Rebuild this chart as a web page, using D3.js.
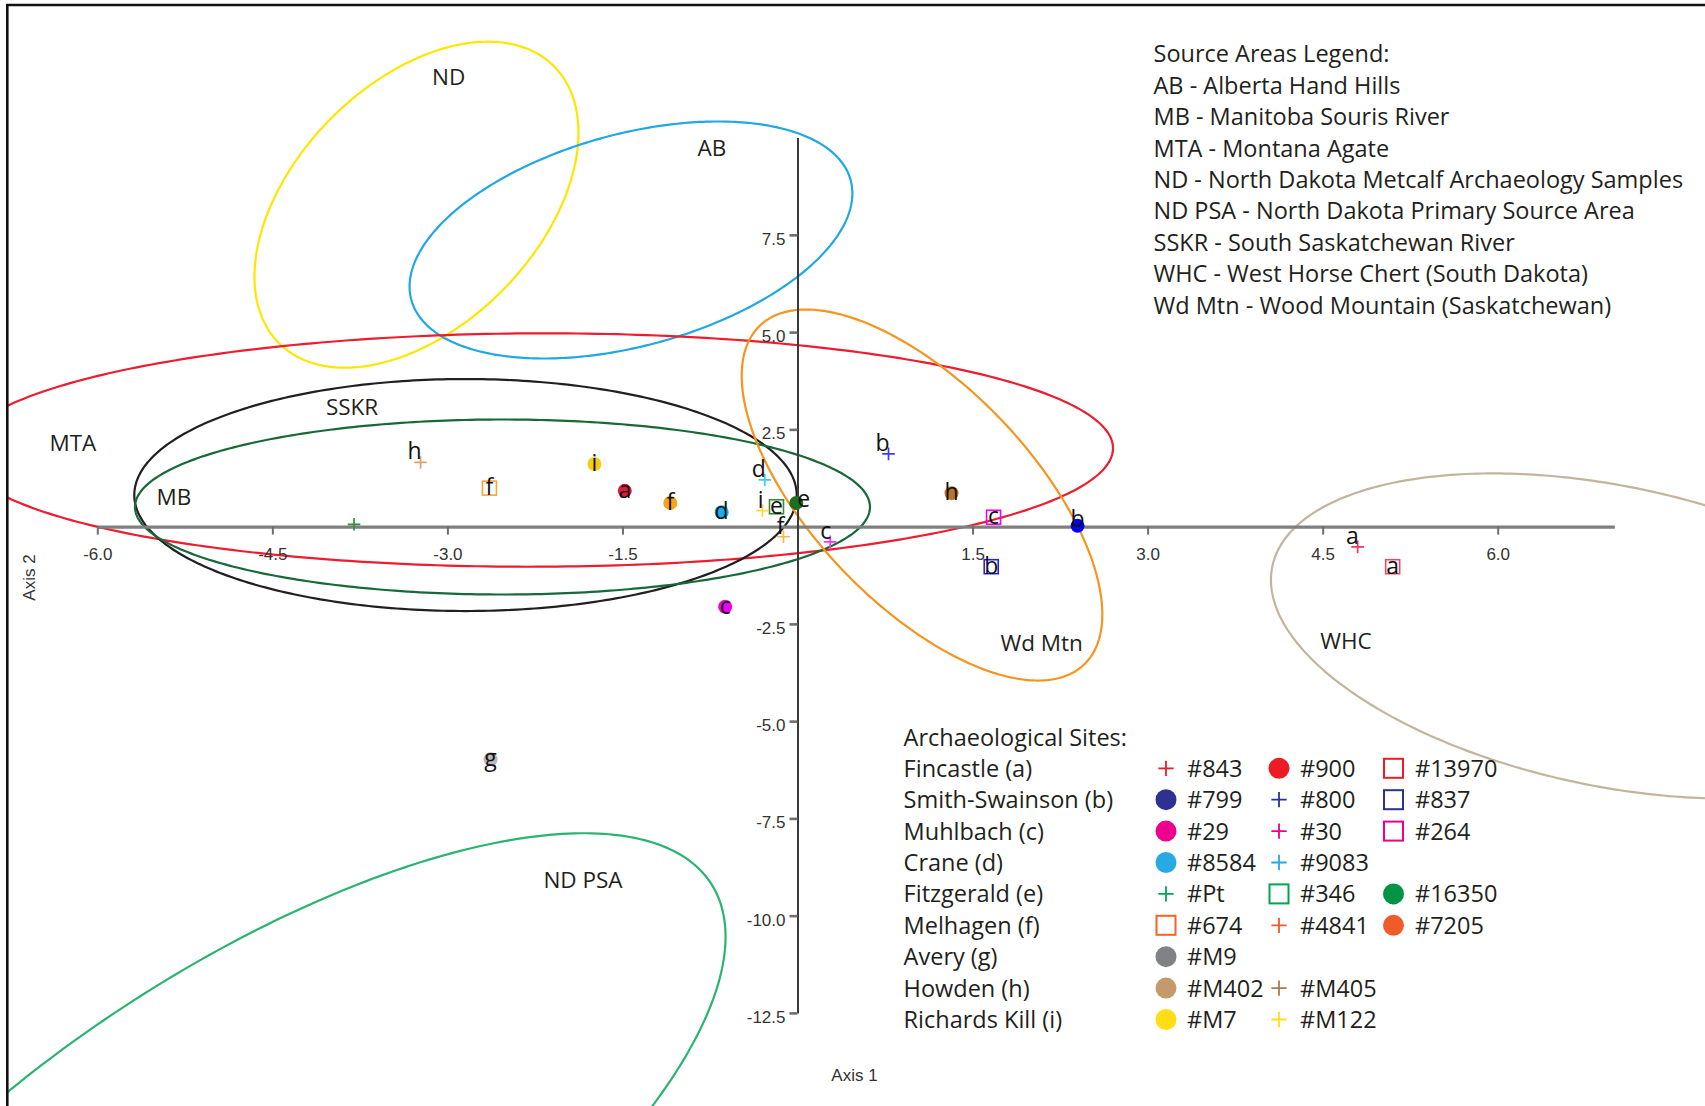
<!DOCTYPE html>
<html>
<head>
<meta charset="utf-8">
<script src="https://cdn.jsdelivr.net/npm/d3@7"></script>
<style>
  html, body { margin: 0; padding: 0; background: #fff; }
  svg { display: block; }
</style>
</head>
<body>
<svg id="chart" width="1705" height="1106"></svg>
<script>
// ---- Sample scores on the first two ordination axes ----
const sampleIds   = ["#843", "#900", "#13970", "#799", "#800", "#837", "#29", "#30", "#264",
                     "#8584", "#9083", "#Pt", "#346", "#16350", "#674", "#4841", "#7205",
                     "#M9", "#M402", "#M405", "#M7", "#M122"];
const sampleSite  = ["a", "a", "a", "b", "b", "b", "c", "c", "c",
                     "d", "d", "e", "e", "e", "f", "f", "f",
                     "g", "h", "h", "i", "i"];
const sampleLabel = ["a", "a", "a", "b", "b", "b", "c", "c", "c",
                     "d", "d", "", "e", "e", "f", "f", "f",
                     "g", "h", "h", "i", "i"];
const sampleShape = ["plus", "circle", "square", "circle", "plus", "square", "circle", "plus", "square",
                     "circle", "plus", "plus", "square", "circle", "square", "plus", "circle",
                     "circle", "circle", "plus", "circle", "plus"];
const axis1Scores = [4.80, -1.48, 5.10, 2.40, 0.78, 1.66, -0.62, 0.28, 1.68,
                     -0.65, -0.28, -3.80, -0.18, -0.01, -2.64, -0.12, -1.09,
                     -2.63, 1.32, -3.23, -1.74, -0.30];
const axis2Scores = [-0.52, 0.92, -1.03, 0.02, 1.87, -1.03, -2.06, -0.39, 0.24,
                     0.37, 1.20, 0.06, 0.51, 0.61, 0.99, -0.26, 0.61,
                     -5.98, 0.86, 1.65, 1.61, 0.41];
const plotColors   = ["#E83A5C", "#E0173F", "#E44A6A", "#0000F0", "#3A3AFF", "#1F1FFF", "#F000F0", "#FF33FF", "#F000F0",
                      "#1AAEEF", "#3CCBFF", "#2F8F3A", "#3A8A3A", "#1E6E22", "#F9A43A", "#FFB44A", "#F9A21B",
                      "#B8B8B8", "#B8742F", "#D6A473", "#F5CE14", "#FFD54A"];
const legendColors = ["#ED1C24", "#ED1C24", "#ED1C24", "#2E3192", "#2E3192", "#2E3192", "#EC008C", "#EC008C", "#EC008C",
                      "#27AAE1", "#27AAE1", "#00A651", "#00A651", "#009444", "#F26522", "#F15A29", "#F15A29",
                      "#808285", "#C49A6C", "#A97C50", "#FFDE17", "#FFDE17"];

// ---- Archaeological sites ----
const siteLetters = ["a", "b", "c", "d", "e", "f", "g", "h", "i"];
const siteNames   = ["Fincastle (a)", "Smith-Swainson (b)", "Muhlbach (c)", "Crane (d)", "Fitzgerald (e)",
                     "Melhagen (f)", "Avery (g)", "Howden (h)", "Richards Kill (i)"];

// ---- Source-area confidence ellipses (centre and spread matrix, axis units) ----
const regionCodes  = ["ND", "AB", "MTA", "SSKR", "MB", "Wd Mtn", "WHC", "ND PSA"];
const regionCX     = [-3.265, -1.427, -2.232, -2.845, -2.528, 1.067, 6.962, -4.692];
const regionCY     = [8.275, 7.368, 1.969, 0.812, 0.504, 0.812, -2.812, -16.81];
const regionVarX   = [1.927, 3.599, 24.36, 8.054, 9.917, 2.387, 8.438, 16.61];
const regionVarY   = [17.558, 9.280, 9.0, 8.892, 5.06, 22.74, 17.47, 79.71];
const regionCov    = [2.569, 2.273, 0.229, 0, 0, -4.736, -4.191, 25.55];
const regionColors = ["#FFE600", "#1FA8E3", "#ED1C2E", "#231F20", "#17693A", "#F7941D", "#C2B59B", "#2BB371"];
const regionLabelX = [-2.989, -0.733, -6.209, -3.817, -5.343, 2.092, 4.700, -1.838];
const regionLabelY = [11.55, 9.725, 2.141, 3.067, 0.774, -3.0, -2.933, -9.085];

const sourceLegendLines = [
  "Source Areas Legend:",
  "AB - Alberta Hand Hills",
  "MB - Manitoba Souris River",
  "MTA - Montana Agate",
  "ND - North Dakota Metcalf Archaeology Samples",
  "ND PSA - North Dakota Primary Source Area",
  "SSKR - South Saskatchewan River",
  "WHC - West Horse Chert (South Dakota)",
  "Wd Mtn - Wood Mountain (Saskatchewan)"
];

// ---- Axes ----
const xTicks = [-6.0, -4.5, -3.0, -1.5, 1.5, 3.0, 4.5, 6.0];
const yTicks = [7.5, 5.0, 2.5, -2.5, -5.0, -7.5, -10.0, -12.5];

const FONT = "'Open Sans', 'Noto Sans', sans-serif";
const AXIS_FONT = "'Liberation Sans', Arial, sans-serif";
const INK = "#231F20";
const LEGEND_SIZE = 23.5;
const REGION_SIZE = 22.5;

const svg = d3.select("#chart");
svg.append("rect").attr("width", 1705).attr("height", 1106).attr("fill", "#fff");

const x = d3.scaleLinear().domain([-6, 7]).range([97.3, 1614.4]);
const y = d3.scaleLinear().domain([-12.5, 10]).range([1012.9, 137.6]);

svg.append("clipPath").attr("id", "frameClip")
  .append("rect").attr("x", 8).attr("y", 6).attr("width", 1697).attr("height", 1100);

// Confidence ellipses: centre + Cholesky factor of the spread matrix applied to the unit circle
const ellipseLine = d3.line().x(d => x(d[0])).y(d => y(d[1])).curve(d3.curveLinearClosed);
const ellipses = svg.append("g").attr("clip-path", "url(#frameClip)");
regionCodes.forEach((code, i) => {
  const a = Math.sqrt(regionVarX[i]);
  const c = regionCov[i] / a;
  const d = Math.sqrt(regionVarY[i] - c * c);
  const pts = d3.range(0, 360, 1).map(deg => {
    const t = deg * Math.PI / 180, u = Math.cos(t), v = Math.sin(t);
    return [regionCX[i] + a * u, regionCY[i] + c * u + d * v];
  });
  ellipses.append("path")
    .attr("d", ellipseLine(pts))
    .attr("fill", "none")
    .attr("stroke", regionColors[i])
    .attr("stroke-width", 2.2);
});

// x axis (Axis 1) through y = 0
const fmt = v => v.toFixed(1);
const gx = svg.append("g").attr("transform", `translate(0,${y(0)})`)
  .call(d3.axisBottom(x).tickValues(xTicks).tickFormat(fmt).tickSize(8).tickSizeOuter(0).tickPadding(13));
gx.select(".domain").attr("stroke", "#7F7F7F").attr("stroke-width", 3.4);
gx.selectAll(".tick line").attr("stroke", "#6E6E6E").attr("stroke-width", 2);
gx.selectAll(".tick text").attr("font-family", AXIS_FONT).attr("font-size", 17).attr("fill", "#333");

// y axis (Axis 2) through x = 0
const gy = svg.append("g").attr("transform", `translate(${x(0)},0)`)
  .call(d3.axisLeft(y).tickValues(yTicks).tickFormat(fmt).tickSize(8).tickSizeOuter(0).tickPadding(4));
gy.select(".domain").attr("stroke", "#3A3A3A").attr("stroke-width", 2);
gy.selectAll(".tick line").attr("stroke", "#6E6E6E").attr("stroke-width", 2.6);
gy.selectAll(".tick text").attr("font-family", AXIS_FONT).attr("font-size", 17).attr("fill", "#333").attr("dy", "0.55em");

svg.append("text").text("Axis 1")
  .attr("x", x(0) + 57).attr("y", 1080.5)
  .attr("text-anchor", "middle").attr("font-family", AXIS_FONT).attr("font-size", 17).attr("fill", "#333");
svg.append("text").text("Axis 2")
  .attr("transform", "translate(35,577.5) rotate(-90)")
  .attr("text-anchor", "middle").attr("font-family", AXIS_FONT).attr("font-size", 17).attr("fill", "#333");

// Region names
svg.append("g").selectAll("text").data(regionCodes).join("text")
  .text(d => d)
  .attr("x", (d, i) => x(regionLabelX[i]))
  .attr("y", (d, i) => y(regionLabelY[i]))
  .attr("dy", "0.36em")
  .attr("text-anchor", "middle")
  .attr("font-family", FONT).attr("font-size", REGION_SIZE).attr("fill", INK);

// Sample markers
function drawSymbol(g, shape, color, size) {
  if (shape === "circle") {
    g.append("circle").attr("r", size * 0.5).attr("fill", color);
  } else if (shape === "square") {
    g.append("rect").attr("x", -size * 0.5).attr("y", -size * 0.5)
      .attr("width", size).attr("height", size)
      .attr("fill", "none").attr("stroke", color).attr("stroke-width", size > 16 ? 2 : 1.6);
  } else {
    const h = size * 0.45;
    g.append("path").attr("d", `M${-h},0H${h}M0,${-h}V${h}`)
      .attr("stroke", color).attr("stroke-width", size > 16 ? 1.8 : 1.7).attr("fill", "none");
  }
}

const markers = svg.append("g");
sampleIds.forEach((id, i) => {
  const g = markers.append("g").attr("transform", `translate(${x(axis1Scores[i])},${y(axis2Scores[i])})`);
  drawSymbol(g, sampleShape[i], plotColors[i], 14);
});

// Sample letters: beside crosses, on top of filled/open symbols; shifted off the axes when a symbol sits on one
const labels = svg.append("g");
sampleIds.forEach((id, i) => {
  if (!sampleLabel[i]) return;
  const px = x(axis1Scores[i]), py = y(axis2Scores[i]);
  const isPlus = sampleShape[i] === "plus";
  const onYAxis = !isPlus && Math.abs(axis1Scores[i]) < 0.05;
  const onXAxis = !isPlus && Math.abs(axis2Scores[i]) < 0.05;
  let lx = px, ly = py + 7, anchor = "middle";
  if (isPlus) { lx = px + 1; ly = py - 3; anchor = "end"; }
  else if (onYAxis) { lx = px + 1; ly = py + 4; anchor = "start"; }
  else if (onXAxis) { ly = py + 1; }
  labels.append("text").text(sampleLabel[i])
    .attr("x", lx).attr("y", ly)
    .attr("text-anchor", anchor)
    .attr("font-family", FONT).attr("font-size", 23).attr("fill", "#111");
});

// Source areas legend
svg.append("g").selectAll("text").data(sourceLegendLines).join("text")
  .text(d => d)
  .attr("x", 1153.5)
  .attr("y", (d, i) => 62.3 + 31.4 * i)
  .attr("font-family", FONT).attr("font-size", LEGEND_SIZE).attr("fill", INK);

// Archaeological sites legend
const siteLegend = svg.append("g");
siteLegend.append("text").text("Archaeological Sites:")
  .attr("x", 903.6).attr("y", 745.7)
  .attr("font-family", FONT).attr("font-size", LEGEND_SIZE).attr("fill", INK);
const symCols = [1166, 1279, 1393.5];
const txtCols = [1187, 1300, 1415];
siteLetters.forEach((letter, r) => {
  const base = 776.7 + 31.4 * r;
  siteLegend.append("text").text(siteNames[r])
    .attr("x", 903.6).attr("y", base)
    .attr("font-family", FONT).attr("font-size", LEGEND_SIZE).attr("fill", INK);
  const members = sampleIds.map((id, i) => i).filter(i => sampleSite[i] === letter);
  members.forEach((i, c) => {
    const g = siteLegend.append("g").attr("transform", `translate(${symCols[c]},${base - 8.4})`);
    drawSymbol(g, sampleShape[i], legendColors[i], sampleShape[i] === "circle" ? 21 : (sampleShape[i] === "square" ? 19 : 17));
    siteLegend.append("text").text(sampleIds[i])
      .attr("x", txtCols[c]).attr("y", base)
      .attr("font-family", FONT).attr("font-size", LEGEND_SIZE).attr("fill", INK);
  });
});

// Frame (top and left edges)
svg.append("line").attr("x1", 6).attr("x2", 1705).attr("y1", 5).attr("y2", 5)
  .attr("stroke", "#111").attr("stroke-width", 2.6);
svg.append("line").attr("x1", 7.3).attr("x2", 7.3).attr("y1", 4).attr("y2", 1106)
  .attr("stroke", "#111").attr("stroke-width", 2.6);
</script>
</body>
</html>
